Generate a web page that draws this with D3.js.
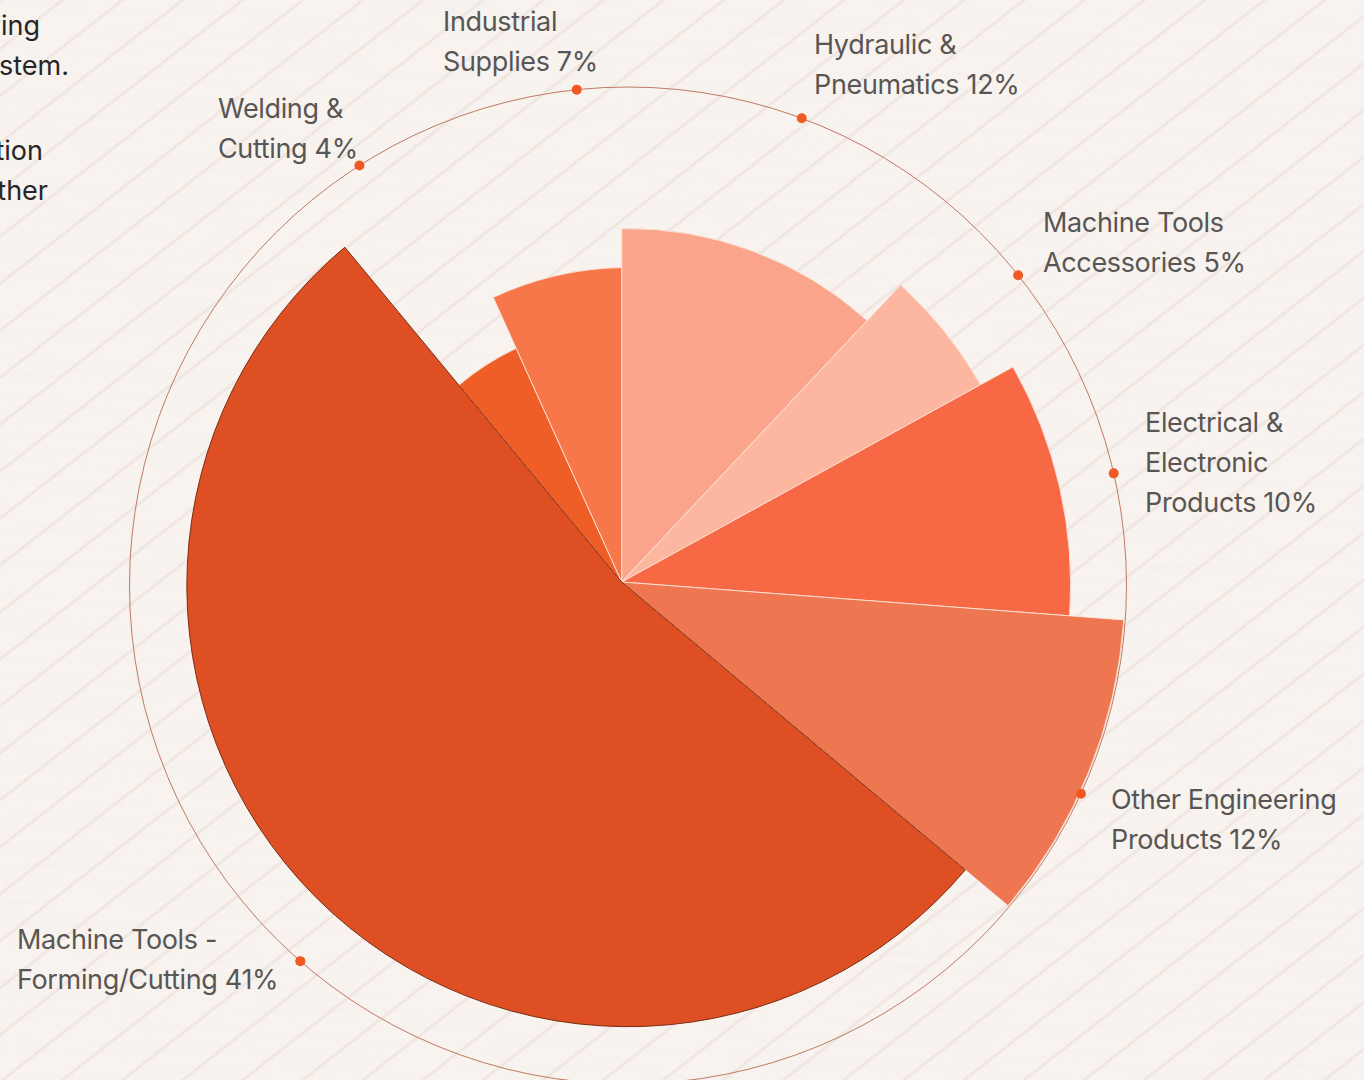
<!DOCTYPE html>
<html>
<head>
  <meta charset='utf-8'>
  <style>
    html, body { margin: 0; padding: 0; background: #f8f3ee; overflow: hidden; }
    text { font-family: Inter, 'Noto Sans', sans-serif; }
  </style>
  <script src='https://cdn.jsdelivr.net/npm/d3@7/dist/d3.min.js'></script>
</head>
<body>
  <script>
    // chart data
    const categories = ['Hydraulic & Pneumatics', 'Machine Tools Accessories', 'Electrical & Electronic Products',
      'Other Engineering Products', 'Machine Tools - Forming/Cutting', 'Welding & Cutting', 'Industrial Supplies']
    const shares = [12.0, 5.0, 9.2, 9.9, 52.9, 4.25, 6.75]      // angular share
    const depth = [71.6, 81.4, 88.8, 99.7, 88.5, 52.6, 63.8]     // radial value (0-100)
    const labels = [['Hydraulic &', 'Pneumatics 12%'], ['Machine Tools', 'Accessories 5%'],
      ['Electrical &', 'Electronic', 'Products 10%'], ['Other Engineering', 'Products 12%'],
      ['Machine Tools -', 'Forming/Cutting 41%'], ['Welding &', 'Cutting 4%'], ['Industrial', 'Supplies 7%']]
    const colors = ['#f9a48b', '#fdb6a0', '#f66944', '#ee7650', '#de5024', '#ef5e27', '#f7774b']
    const introTail = [['engineering', 40, 35], ['ecosystem.', 69, 75], ['production', 43, 160], ['together', 48, 200]]

    // label layout (angle on ring in degrees, text anchor position)
    const labelLayout = [
      { a: 20.4, x: 814, y: 54 }, { a: 51.5, x: 1043, y: 232 }, { a: 77.0, x: 1145, y: 432 },
      { a: 114.7, x: 1111, y: 809 }, { a: 221.1, x: 17, y: 949 }, { a: 327.4, x: 218, y: 118 },
      { a: 354.1, x: 443, y: 31 }]

    const width = 1364, height = 1080
    const apex = [621.7, 582]     // where the wedges meet
    const ring = [628, 585.5]     // centre of ring / arcs
    const R = 498.5

    const svg = d3.select('body').append('svg')
      .attr('width', width).attr('height', height)

    const defs = svg.append('defs')
    const pat = defs.append('pattern')
      .attr('id', 'diag').attr('patternUnits', 'userSpaceOnUse')
      .attr('width', 37).attr('height', 80)
      .attr('patternTransform', 'rotate(52)')
    pat.append('rect').attr('x', 0).attr('y', 0).attr('width', 3).attr('height', 80).attr('fill', '#f0e6e2')

    const f = defs.append('filter').attr('id', 'grain')
      .attr('x', 0).attr('y', 0).attr('width', '100%').attr('height', '100%')
    f.append('feTurbulence').attr('type', 'fractalNoise')
      .attr('baseFrequency', '0.008 0.14').attr('numOctaves', 2).attr('seed', 4)
    f.append('feColorMatrix').attr('type', 'matrix')
      .attr('values', '0 0 0 0 0.92  0 0 0 0 0.88  0 0 0 0 0.86  3.2 0 0 0 -1.45')

    svg.append('rect').attr('width', width).attr('height', height).attr('fill', '#f8f3ee')
    svg.append('rect').attr('width', width).attr('height', height).attr('filter', 'url(#grain)').attr('opacity', 0.6)
    svg.append('rect').attr('width', width).attr('height', height).attr('fill', 'url(#diag)')

    // intro paragraph, cut at the left edge
    svg.append('g').selectAll('text').data(introTail).join('text')
      .attr('x', d => d[1]).attr('y', d => d[2])
      .attr('text-anchor', 'end')
      .attr('font-size', 27).attr('fill', '#262626')
      .text(d => d[0])

    const r = d3.scaleLinear().domain([0, 100]).range([0, R])

    const pie = d3.pie().sort(null).value(d => d.share)
    const data = categories.map((c, i) => ({ name: c, share: shares[i], depth: depth[i], color: colors[i], i }))
    const arcs = pie(data)

    // wedge path: rays from the apex, closed by an arc round the ring centre
    function hit(theta, rad) {
      const u = [Math.sin(theta), -Math.cos(theta)]
      const w = [apex[0] - ring[0], apex[1] - ring[1]]
      const b = u[0] * w[0] + u[1] * w[1]
      const t = -b + Math.sqrt(b * b - (w[0] * w[0] + w[1] * w[1]) + rad * rad)
      return [apex[0] + t * u[0], apex[1] + t * u[1]]
    }
    function wedge(d) {
      const rad = r(d.data.depth)
      const p0 = hit(d.startAngle, rad), p1 = hit(d.endAngle, rad)
      const a0 = Math.atan2(p0[1] - ring[1], p0[0] - ring[0])
      const a1 = Math.atan2(p1[1] - ring[1], p1[0] - ring[0])
      const p = d3.path()
      p.moveTo(apex[0], apex[1])
      p.lineTo(p0[0], p0[1])
      p.arc(ring[0], ring[1], rad, a0, a1 < a0 ? a1 + 2 * Math.PI : a1)
      p.closePath()
      return p.toString()
    }

    // outer ring
    svg.append('circle')
      .attr('cx', ring[0]).attr('cy', ring[1]).attr('r', R)
      .attr('fill', 'none').attr('stroke', '#c07a62').attr('stroke-width', 1)

    const big = d3.max(arcs, d => d.endAngle - d.startAngle)
    const order = arcs.slice().sort((a, b) => (a.endAngle - a.startAngle === big) - (b.endAngle - b.startAngle === big))
    svg.append('g').selectAll('path').data(order).join('path')
      .attr('d', wedge)
      .attr('fill', d => d.data.color)
      .attr('stroke', d => d.endAngle - d.startAngle === big ? '#7a2c12' : '#fde4da')
      .attr('stroke-width', d => d.endAngle - d.startAngle === big ? 1 : 0.9)
      .attr('stroke-linejoin', 'round')

    // label dots and texts
    const lab = svg.append('g')
    lab.selectAll('circle').data(labelLayout).join('circle')
      .attr('cx', d => ring[0] + R * Math.sin(d.a * Math.PI / 180))
      .attr('cy', d => ring[1] - R * Math.cos(d.a * Math.PI / 180))
      .attr('r', 5).attr('fill', '#f05a22')

    lab.selectAll('text').data(labelLayout).join('text')
      .attr('x', d => d.x).attr('y', d => d.y)
      .attr('font-size', 27).attr('letter-spacing', -0.35).attr('fill', '#585654')
      .each(function (d, i) {
        d3.select(this).selectAll('tspan').data(labels[i]).join('tspan')
          .attr('x', d.x).attr('dy', (t, j) => j ? 40 : 0)
          .text(t => t)
      })
  </script>
</body>
</html>
